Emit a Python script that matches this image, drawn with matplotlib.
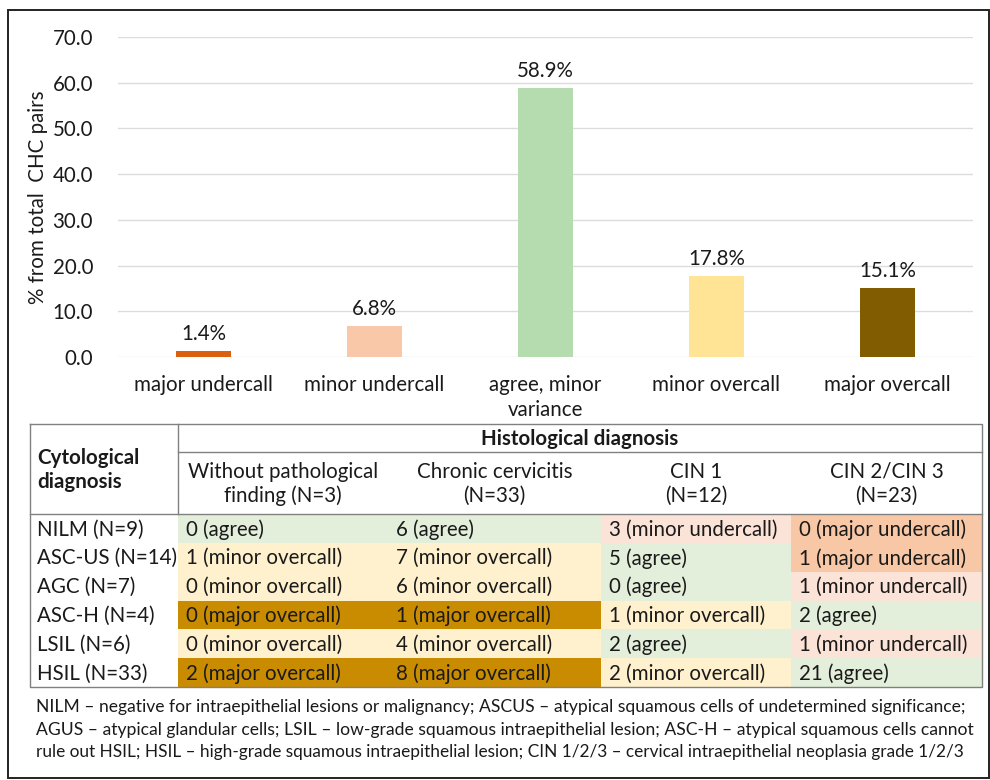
import matplotlib
matplotlib.use("Agg")
import matplotlib.pyplot as plt
from matplotlib.patches import Rectangle

# ---------------- data ----------------
categories = ["major undercall", "minor undercall", "agree, minor\nvariance",
              "minor overcall", "major overcall"]
values = [1.4, 6.8, 58.9, 17.8, 15.1]
bar_colors = ["#DC5F10", "#F9C8A8", "#B5DCAE", "#FFE496", "#815C00"]
yticks = [0, 10, 20, 30, 40, 50, 60, 70]
ylabel = "% from total  CHC pairs"

row_labels = ["NILM (N=9)", "ASC-US (N=14)", "AGC (N=7)", "ASC-H (N=4)",
              "LSIL (N=6)", "HSIL (N=33)"]
col_labels = ["Without pathological\nfinding (N=3)", "Chronic cervicitis\n(N=33)",
              "CIN 1\n(N=12)", "CIN 2/CIN 3\n(N=23)"]
counts = [[0, 6, 3, 0],
          [1, 7, 5, 1],
          [0, 6, 0, 1],
          [0, 1, 1, 2],
          [0, 4, 2, 1],
          [2, 8, 2, 21]]
classes = [["agree", "agree", "minor undercall", "major undercall"],
           ["minor overcall", "minor overcall", "agree", "major undercall"],
           ["minor overcall", "minor overcall", "agree", "minor undercall"],
           ["major overcall", "major overcall", "minor overcall", "agree"],
           ["minor overcall", "minor overcall", "agree", "minor undercall"],
           ["major overcall", "major overcall", "minor overcall", "agree"]]
cell_colors = {"agree": "#E3EFDA", "minor overcall": "#FFF1CD",
               "major overcall": "#C98C00", "minor undercall": "#FCE3D8",
               "major undercall": "#F8C7A6"}
header_main = "Histological diagnosis"
header_row = "Cytological\ndiagnosis"
footnote = ["NILM \u2013 negative for intraepithelial lesions or malignancy; ASCUS \u2013 atypical squamous cells of undetermined significance;",
            "AGUS \u2013 atypical glandular cells; LSIL \u2013 low-grade squamous intraepithelial lesion; ASC-H \u2013 atypical squamous cells cannot",
            "rule out HSIL; HSIL \u2013 high-grade squamous intraepithelial lesion; CIN 1/2/3 \u2013 cervical intraepithelial neoplasia grade 1/2/3"]

# ---------------- figure ----------------
plt.rcParams["font.family"] = ["Lato", "DejaVu Sans"]
W, H = 990, 780
fig = plt.figure(figsize=(W / 100, H / 100), dpi=100)
TXT = "#1a1a1a"
FS = 14.8

def fx(x):
    return x / W

def fy(y):
    return 1 - y / H

# overlay axes in pixel coords
ov = fig.add_axes([0, 0, 1, 1], zorder=0)
ov.set_xlim(0, W)
ov.set_ylim(H, 0)
ov.axis("off")

# outer frame
ov.add_patch(Rectangle((8, 10), 980.5, 768, fill=False, ec="#222222", lw=1.4))

# ---------------- bar chart ----------------
left, right, top, bottom = 118, 973, 37, 357
ax = fig.add_axes([fx(left), fy(bottom), (right - left) / W, (bottom - top) / H], zorder=2)
ax.patch.set_alpha(0)
x = list(range(len(categories)))
bars = ax.bar(x, values, width=0.316, color=bar_colors, zorder=3)
ax.set_xlim(-0.5, len(categories) - 0.5)
ax.set_ylim(0, 70)
ax.set_yticks(yticks)
ax.set_yticklabels([f"{v:.1f}" for v in yticks], fontsize=FS, color=TXT)
ax.set_xticks(x)
ax.set_xticklabels(categories, fontsize=FS, color=TXT, linespacing=1.3)
ax.tick_params(axis="both", length=0)
ax.tick_params(axis="y", pad=18)
ax.tick_params(axis="x", pad=13)
for s in ax.spines.values():
    s.set_visible(False)
ax.yaxis.grid(True, color="#DCDCDC", lw=1.0, zorder=0)
ax.set_axisbelow(True)
for b, v in zip(bars, values):
    ax.annotate(f"{v:.1f}%", (b.get_x() + b.get_width() / 2, v), xytext=(0, 5),
                textcoords="offset points", ha="center", va="bottom",
                fontsize=FS, color=TXT)
ax.set_ylabel(ylabel, fontsize=FS, color=TXT)
ax.yaxis.set_label_coords((48 - left) / (right - left), 0.5)

# ---------------- table ----------------
col_x = [30, 178, 388, 601, 791, 982]
t_top, h1, h2 = 424, 452, 514
row_h = (687 - 514) / len(row_labels)
line_c = "#808080"

for i, lab in enumerate(row_labels):
    y0 = h2 + i * row_h
    for j in range(len(col_labels)):
        c = cell_colors[classes[i][j]]
        ov.add_patch(Rectangle((col_x[j + 1], y0), col_x[j + 2] - col_x[j + 1], row_h,
                               fc=c, ec="none", zorder=1))
        ov.text(col_x[j + 1] + 8, y0 + row_h / 2 + 1, f"{counts[i][j]} ({classes[i][j]})",
                fontsize=FS, color=TXT, va="center", ha="left", zorder=3)
    ov.text(37, y0 + row_h / 2 + 1, lab, fontsize=FS, color=TXT, va="center", ha="left", zorder=3)

# header texts
ov.text(37, (t_top + h2) / 2 + 1, header_row, fontsize=FS, fontweight="bold", color=TXT,
        va="center", ha="left", linespacing=1.2)
ov.text((col_x[1] + col_x[-1]) / 2, (t_top + h1) / 2 + 1, header_main, fontsize=FS,
        fontweight="bold", color=TXT, va="center", ha="center")
for j, lab in enumerate(col_labels):
    ov.text((col_x[j + 1] + col_x[j + 2]) / 2, (h1 + h2) / 2 + 1, lab, fontsize=FS,
            color=TXT, va="center", ha="center", linespacing=1.25)

# table lines
t_bot = h2 + row_h * len(row_labels)
lk = dict(color=line_c, lw=1.0, zorder=4)
ov.plot([col_x[0], col_x[-1], col_x[-1], col_x[0], col_x[0]],
        [t_top, t_top, t_bot, t_bot, t_top], **lk)
ov.plot([col_x[1], col_x[1]], [t_top, h2], **lk)
ov.plot([col_x[1], col_x[-1]], [h1, h1], **lk)
ov.plot([col_x[0], col_x[-1]], [h2, h2], **lk)

# ---------------- footnote ----------------
renderer = fig.canvas.get_renderer()
foot_y = [707, 730, 752]
foot_right = [965, 967, 964]
for txt, yy, xr in zip(footnote, foot_y, foot_right):
    t = ov.text(36, yy, txt, fontsize=12, color=TXT, va="center", ha="left")
    bb = t.get_window_extent(renderer)
    t.set_fontsize(12 * (xr - 36) / bb.width)

fig.savefig("out.png", dpi=100)
